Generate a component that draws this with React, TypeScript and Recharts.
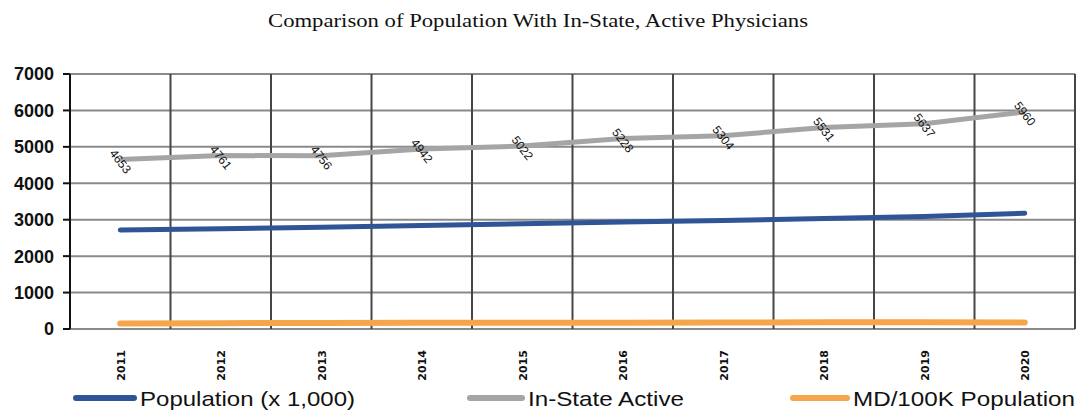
import React from 'react';
import { LineChart, Line, XAxis, YAxis, CartesianGrid, Legend, LabelList } from 'recharts';

const years = ['2011', '2012', '2013', '2014', '2015', '2016', '2017', '2018', '2019', '2020'];
const population = [2720, 2750, 2790, 2840, 2890, 2940, 2980, 3030, 3090, 3180];
const inStateActive = [4653, 4761, 4756, 4942, 5022, 5228, 5304, 5531, 5637, 5960];
const mdPer100k = [150, 160, 165, 170, 170, 175, 178, 183, 182, 180];
const yTicks = [0, 1000, 2000, 3000, 4000, 5000, 6000, 7000];
const boundaryTicks = [0, 1, 2, 3, 4, 5, 6, 7, 8, 9, 10];
const seriesNames = ['Population (x 1,000)', 'In-State Active', 'MD/100K Population'];
const title = 'Comparison of Population With In-State, Active Physicians';

const data = years.map((y, i) => ({
  year: y,
  slot: i + 0.5,
  pop: population[i],
  active: inStateActive[i],
  md: mdPer100k[i],
}));

const BLUE = '#2f5597';
const GRAY = '#a5a5a5';
const ORANGE = '#f6a54a';

const XTick = (props: any) => {
  const { x, y, payload } = props;
  return (
    <text
      x={x + 1}
      y={y + 13}
      transform={`rotate(-90, ${x + 1}, ${y + 13})`}
      textAnchor="end"
      dominantBaseline="central"
      fontFamily="DejaVu Sans"
      fontWeight="bold"
      fontSize={11}
      fill="#111"
    >
      {payload.value}
    </text>
  );
};

const ActiveLabel = (props: any) => {
  const { x, y, value } = props;
  return (
    <text
      x={x}
      y={y + 2}
      transform={`rotate(52, ${x}, ${y + 2})`}
      textAnchor="middle"
      dominantBaseline="central"
      fontFamily="Liberation Sans"
      fontSize={12}
      fill="#111"
      stroke="none"
    >
      {value}
    </text>
  );
};

const legendLayout: Record<string, { x1: number; x2: number; tx: number; tw: number }> = {
  pop: { x1: 76, x2: 134, tx: 140, tw: 215 },
  active: { x1: 470, x2: 522, tx: 528, tw: 156 },
  md: { x1: 793, x2: 847, tx: 853, tw: 222 },
};

const LegendContent = (props: any) => {
  const payload = props.payload || [];
  return (
    <svg width={1078} height={40} style={{ display: 'block' }}>
      {payload.map((p: any, i: number) => {
        const l = legendLayout[p.dataKey];
        if (!l) return null;
        return (
          <g key={i}>
            <line x1={l.x1} x2={l.x2} y1={23} y2={23} stroke={p.color} strokeWidth={6} strokeLinecap="round" />
            <text
              x={l.tx}
              y={23}
              dominantBaseline="central"
              fontFamily="Liberation Sans"
              fontSize={21}
              fill="#111"
              textLength={l.tw}
              lengthAdjust="spacingAndGlyphs"
            >
              {p.value}
            </text>
          </g>
        );
      })}
    </svg>
  );
};

export default function App() {
  return (
    <div style={{ position: 'absolute', left: 0, top: 0, width: 1078, height: 415, background: '#fff' }}>
      <svg width={1078} height={40} style={{ position: 'absolute', left: 0, top: 0 }}>
        <text
          x={538}
          y={20}
          textAnchor="middle"
          dominantBaseline="central"
          fontFamily="Liberation Serif"
          fontSize={19}
          fill="#111"
          textLength={540}
          lengthAdjust="spacingAndGlyphs"
        >
          {title}
        </text>
      </svg>
      <LineChart
        width={1078}
        height={415}
        data={data}
        margin={{ top: 74, right: 3, left: 0, bottom: 0 }}
      >
        <CartesianGrid vertical={false} stroke="#8a8a8a" strokeWidth={2} yAxisId="y" xAxisId="cat" />
        <CartesianGrid horizontal={false} stroke="#454545" strokeWidth={2} xAxisId="grid" yAxisId="y" />
        <XAxis
          xAxisId="grid"
          dataKey="slot"
          type="number"
          domain={[0, 10]}
          ticks={boundaryTicks}
          height={0}
          tick={() => null}
          tickSize={5}
          tickLine={{ stroke: '#111', strokeWidth: 2 }}
          axisLine={{ stroke: '#111', strokeWidth: 2 }}
          allowDataOverflow
        />
        <XAxis
          xAxisId="cat"
          dataKey="year"
          scale="band"
          height={46}
          tick={<XTick />}
          tickLine={false}
          axisLine={false}
          interval={0}
        />
        <YAxis
          yAxisId="y"
          width={70}
          domain={[0, 7000]}
          ticks={yTicks}
          tickSize={7}
          tickMargin={9}
          axisLine={{ stroke: '#111', strokeWidth: 2 }}
          tickLine={{ stroke: '#111', strokeWidth: 2 }}
          tick={{ fontFamily: 'Liberation Sans', fontWeight: 'bold', fontSize: 18, fill: '#111' }}
        />
        <Legend verticalAlign="bottom" height={40} content={<LegendContent />} />
        <Line
          xAxisId="cat"
          yAxisId="y"
          dataKey="pop"
          name={seriesNames[0]}
          stroke={BLUE}
          strokeWidth={5}
          dot={false}
          strokeLinecap="round"
          isAnimationActive={false}
        />
        <Line
          xAxisId="cat"
          yAxisId="y"
          dataKey="active"
          name={seriesNames[1]}
          stroke={GRAY}
          strokeWidth={5}
          dot={false}
          isAnimationActive={false}
        >
          <LabelList dataKey="active" content={<ActiveLabel />} />
        </Line>
        <Line
          xAxisId="cat"
          yAxisId="y"
          dataKey="md"
          name={seriesNames[2]}
          stroke={ORANGE}
          strokeWidth={6}
          dot={false}
          strokeLinecap="round"
          isAnimationActive={false}
        />
      </LineChart>
    </div>
  );
}
